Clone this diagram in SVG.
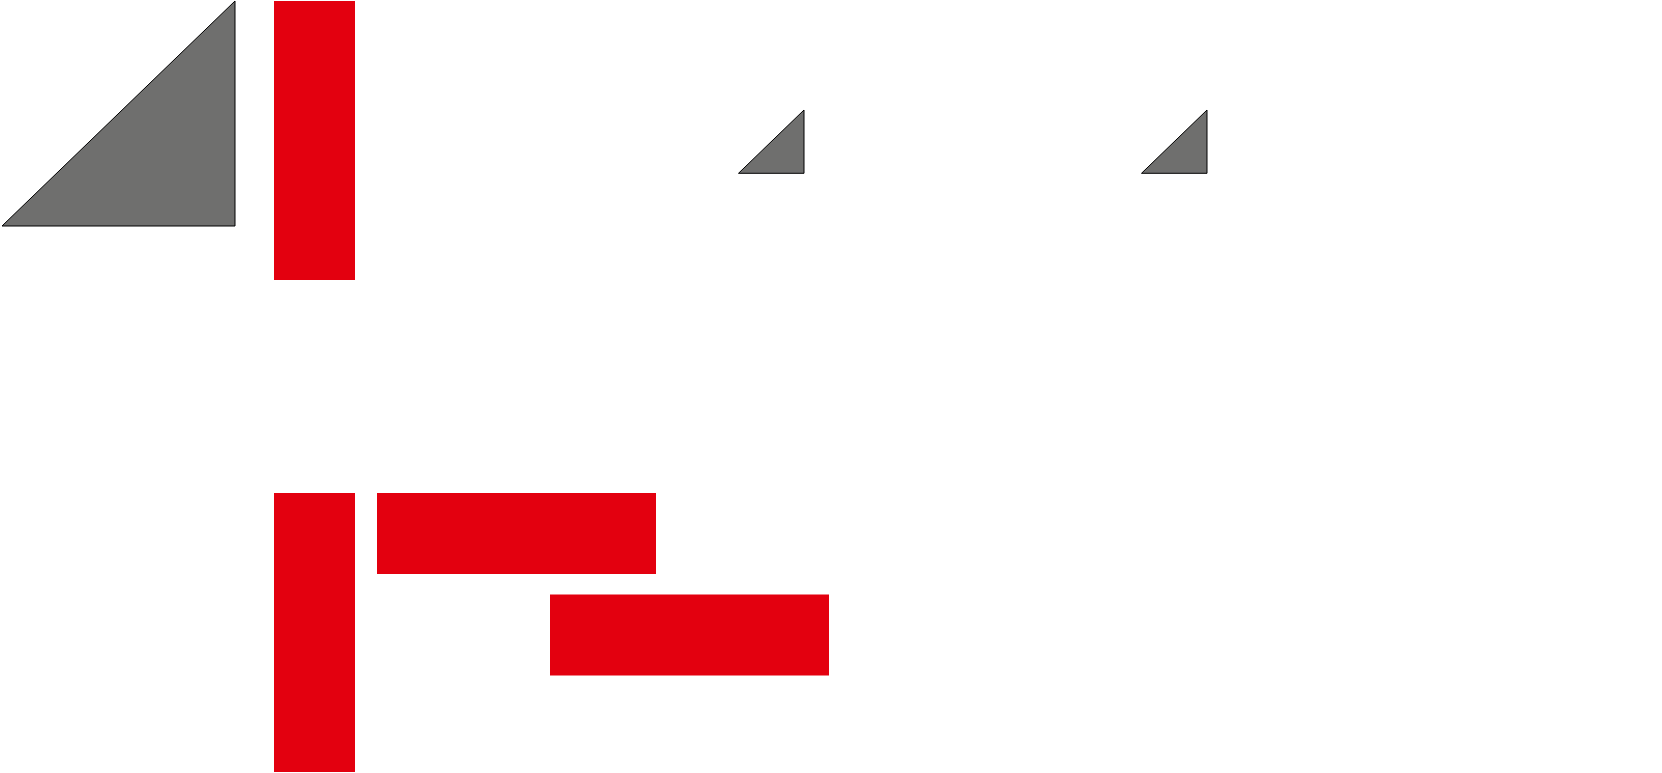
<svg xmlns="http://www.w3.org/2000/svg" width="1662" height="773" viewBox="0 0 1662 773">
<style>
.red{fill:#e3000f;stroke:none}
.tri{fill:#6f6f6e;stroke:#000;stroke-width:1;stroke-linejoin:miter}
</style>
<rect x="0" y="0" width="1662" height="773" fill="#fff"/>
<g id="triangle-large"><polygon class="tri" points="2,226 235,1 235,226"/></g>
<g id="triangle-small-1"><polygon class="tri" points="738.5,173.3 804,110 804,173.3"/></g>
<g id="triangle-small-2"><polygon class="tri" points="1141.5,173.3 1207,110 1207,173.3"/></g>
<g id="bar-top"><rect class="red" x="274" y="1" width="81" height="279"/></g>
<g id="bar-bottom"><rect class="red" x="274" y="493" width="81" height="279"/></g>
<g id="bar-h1"><rect class="red" x="377" y="493" width="279" height="81"/></g>
<g id="bar-h2"><rect class="red" x="550" y="594.5" width="279" height="81"/></g>
<g id="connectors"></g>
</svg>
